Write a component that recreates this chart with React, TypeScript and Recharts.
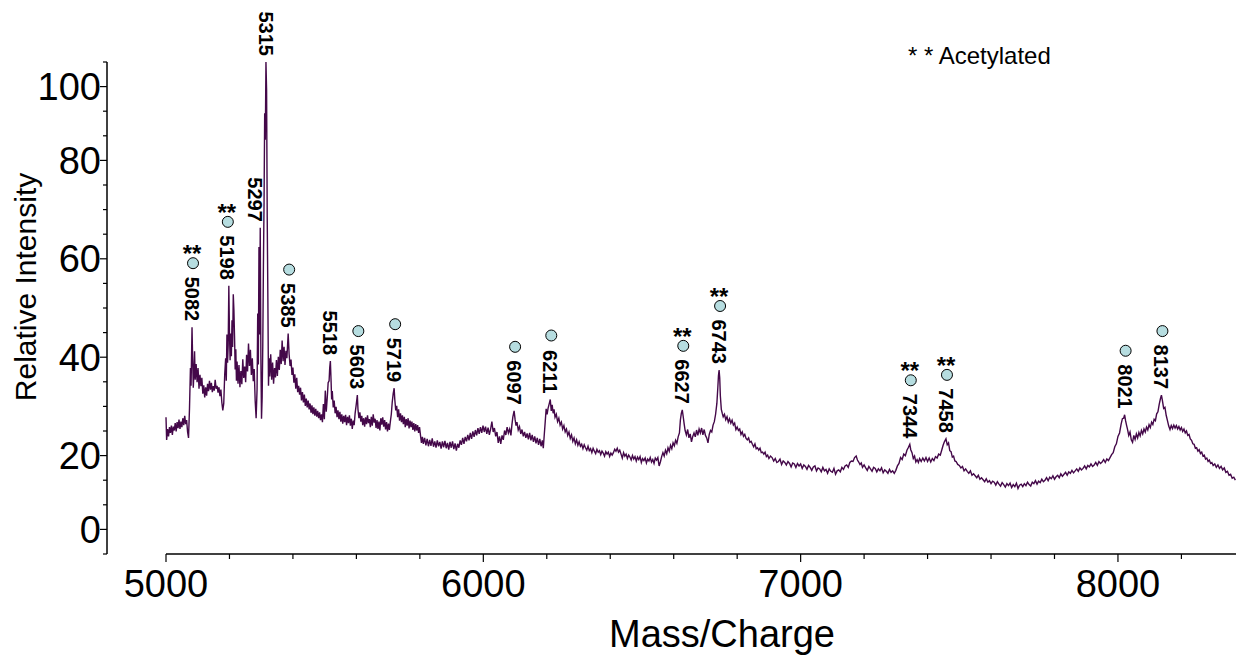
import React from 'react';
import {
  ComposedChart,
  Line,
  Scatter,
  XAxis,
  YAxis,
  ReferenceLine,
} from 'recharts';

// m/z, relative intensity
const spectrum: [number, number][] = [
  [5000, 27.8], [5002, 23.2], [5005, 25.4], [5008, 23.9], [5011, 25.8], [5014, 24.6], [5017, 26.1], [5020, 24.2],
  [5023, 25.9], [5026, 25.1], [5029, 26.6], [5032, 24.9], [5035, 26.8], [5038, 25.6], [5041, 27.3], [5044, 25.4],
  [5047, 26.9], [5050, 25.8], [5053, 27.6], [5056, 26.2], [5059, 28.1], [5062, 26.4], [5065, 27.2], [5068, 24.8],
  [5071, 23.6], [5074, 29.5], [5077, 37.8], [5079, 34.2], [5082, 46.1], [5084, 39.5], [5086, 33.8], [5088, 36.9],
  [5090, 41.2], [5092, 35.4], [5095, 38.6], [5098, 34.9], [5101, 37.8], [5104, 33.6], [5107, 36.4], [5110, 34.1],
  [5113, 35.8], [5116, 32.6], [5119, 34.3], [5122, 31.8], [5125, 33.9], [5128, 32.2], [5131, 34.6], [5134, 33.1],
  [5137, 35.2], [5140, 33.4], [5143, 34.8], [5146, 32.9], [5149, 34.1], [5152, 33.2], [5155, 35.4], [5158, 33.6],
  [5161, 34.2], [5164, 32.8], [5167, 33.9], [5170, 32.1], [5173, 33.4], [5176, 30.8], [5179, 29.2], [5182, 30.6],
  [5185, 36.5], [5188, 39.8], [5190, 35.2], [5192, 44.6], [5194, 38.9], [5196, 42.5], [5198, 54.5], [5200, 45.1],
  [5202, 39.4], [5204, 44.8], [5206, 40.2], [5208, 47.5], [5210, 42.1], [5212, 52.8], [5214, 49.6], [5216, 44.2],
  [5218, 37.5], [5220, 41.6], [5222, 35.2], [5224, 39.1], [5227, 34.6], [5230, 38.4], [5233, 33.9], [5236, 37.2],
  [5239, 34.5], [5242, 39.6], [5245, 35.8], [5248, 38.1], [5251, 34.9], [5254, 40.5], [5257, 37.1], [5260, 42.8],
  [5263, 38.2], [5266, 41.5], [5269, 36.4], [5272, 39.8], [5275, 35.1], [5278, 37.6], [5281, 31.2], [5284, 27.6],
  [5287, 33.5], [5289, 48.9], [5291, 38.5], [5293, 62.4], [5295, 44.6], [5297, 66.3], [5299, 40.2], [5301, 27.5],
  [5303, 31.8], [5305, 42.5], [5307, 58.6], [5309, 71.4], [5311, 89.6], [5313, 84.2], [5315, 100], [5317, 94.3],
  [5319, 68.5], [5321, 52.1], [5323, 34.2], [5325, 39.8], [5327, 36.1], [5330, 40.6], [5333, 35.4], [5336, 38.9],
  [5339, 34.6], [5342, 37.8], [5345, 35.9], [5348, 39.4], [5351, 36.2], [5354, 40.1], [5357, 37.4], [5360, 41.5],
  [5363, 38.6], [5366, 43.4], [5369, 39.2], [5372, 42.1], [5375, 38.4], [5378, 41.3], [5381, 39.8], [5385, 44.8],
  [5388, 40.6], [5391, 38.2], [5394, 39.5], [5397, 36.4], [5400, 37.9], [5403, 34.8], [5406, 36.5], [5409, 33.6],
  [5412, 35.8], [5415, 32.9], [5418, 34.2], [5421, 32.4], [5424, 33.8], [5427, 31.2], [5430, 32.9], [5433, 30.8],
  [5436, 32.4], [5439, 30.1], [5442, 31.6], [5445, 29.8], [5448, 31.2], [5451, 29.4], [5454, 30.6], [5457, 28.7],
  [5460, 30.2], [5463, 28.4], [5466, 29.8], [5469, 28.1], [5472, 29.5], [5475, 27.9], [5478, 29.1], [5481, 27.6],
  [5484, 28.8], [5487, 27.2], [5490, 28.4], [5493, 26.8], [5496, 30.5], [5499, 27.4], [5502, 33.2], [5505, 28.9],
  [5508, 31.6], [5511, 34.8], [5514, 35.2], [5516, 37.9], [5518, 39.2], [5520, 35.6], [5522, 31.4], [5524, 33.1],
  [5527, 29.8], [5530, 31.2], [5533, 28.6], [5536, 29.9], [5539, 27.8], [5542, 29.2], [5545, 27.4], [5548, 28.9],
  [5551, 26.9], [5554, 28.4], [5557, 26.5], [5560, 28.1], [5563, 26.8], [5566, 28.3], [5569, 26.2], [5572, 27.9],
  [5575, 26.6], [5578, 28.2], [5581, 26.1], [5584, 27.5], [5587, 25.4], [5590, 27.1], [5593, 26.2], [5596, 28.6],
  [5599, 30.1], [5601, 31.2], [5603, 32.3], [5605, 29.4], [5608, 27.6], [5611, 28.8], [5614, 26.9], [5617, 28.1],
  [5620, 26.2], [5623, 27.6], [5626, 25.9], [5629, 27.8], [5632, 26.4], [5635, 28.2], [5638, 26.6], [5641, 27.4],
  [5644, 25.8], [5647, 27.9], [5650, 26.1], [5653, 28.4], [5656, 26.7], [5659, 27.5], [5662, 25.6], [5665, 27.2],
  [5668, 25.4], [5671, 26.9], [5674, 25.1], [5677, 27.6], [5680, 26.3], [5683, 27.8], [5686, 25.9], [5689, 27.2],
  [5692, 25.3], [5695, 26.8], [5698, 24.9], [5701, 26.5], [5704, 25.2], [5707, 26.9], [5710, 28.4], [5713, 30.9],
  [5716, 32.6], [5719, 33.7], [5721, 31.4], [5724, 29.2], [5727, 30.1], [5730, 27.8], [5733, 29.4], [5736, 27.1],
  [5739, 28.6], [5742, 26.8], [5745, 28.2], [5748, 26.4], [5751, 27.9], [5754, 25.8], [5757, 27.4], [5760, 26.1],
  [5763, 27.6], [5766, 25.5], [5769, 27.1], [5772, 25.8], [5775, 26.9], [5778, 25.2], [5781, 26.6], [5784, 24.9],
  [5787, 26.4], [5790, 25.1], [5793, 26.2], [5796, 24.6], [5799, 25.8], [5802, 24.1], [5805, 22.6], [5808, 23.8],
  [5811, 22.4], [5815, 23.6], [5819, 22.1], [5823, 23.4], [5827, 21.9], [5831, 23.2], [5835, 22.0], [5839, 23.5],
  [5843, 21.8], [5847, 22.9], [5851, 21.6], [5855, 23.1], [5859, 21.9], [5863, 22.8], [5867, 21.4], [5871, 22.9],
  [5875, 21.7], [5879, 23.0], [5883, 21.5], [5887, 22.6], [5891, 21.2], [5895, 22.8], [5899, 21.6], [5903, 22.9],
  [5907, 21.3], [5911, 22.5], [5915, 21.0], [5919, 22.4], [5923, 21.6], [5927, 23.1], [5931, 22.2], [5935, 23.6],
  [5939, 22.4], [5943, 23.8], [5947, 22.9], [5951, 24.2], [5955, 23.1], [5959, 24.6], [5963, 23.4], [5967, 24.9],
  [5971, 23.8], [5975, 25.2], [5979, 24.1], [5983, 25.6], [5987, 24.4], [5991, 25.8], [5995, 24.6], [5999, 26.1],
  [6003, 24.8], [6007, 25.9], [6011, 24.4], [6015, 25.7], [6019, 24.2], [6023, 25.4], [6027, 26.9], [6031, 24.8],
  [6035, 25.6], [6039, 23.9], [6043, 24.8], [6047, 22.6], [6051, 23.9], [6055, 22.4], [6059, 24.1], [6063, 23.2],
  [6067, 25.1], [6071, 24.2], [6075, 25.8], [6079, 24.6], [6083, 25.4], [6087, 24.1], [6090, 26.2], [6093, 27.8],
  [6097, 29.1], [6100, 27.4], [6103, 26.1], [6106, 26.8], [6110, 25.2], [6114, 25.9], [6118, 24.4], [6122, 25.3],
  [6126, 23.9], [6130, 24.8], [6134, 23.6], [6138, 24.5], [6142, 23.3], [6146, 24.6], [6150, 23.1], [6154, 24.2],
  [6158, 22.8], [6162, 23.9], [6166, 22.5], [6170, 23.6], [6174, 22.2], [6178, 23.4], [6182, 21.9], [6186, 23.1],
  [6189, 21.5], [6192, 24.2], [6195, 26.8], [6198, 29.5], [6201, 28.4], [6204, 29.6], [6208, 30.6], [6211, 31.4],
  [6214, 29.1], [6217, 30.3], [6220, 28.6], [6223, 29.4], [6226, 27.8], [6230, 28.4], [6234, 26.9], [6238, 27.6],
  [6242, 26.2], [6246, 26.8], [6250, 25.4], [6254, 26.1], [6258, 24.8], [6262, 25.4], [6266, 24.1], [6270, 24.8],
  [6274, 23.5], [6278, 24.2], [6282, 22.9], [6286, 23.6], [6290, 22.4], [6294, 23.2], [6298, 22.1], [6302, 22.8],
  [6306, 21.9], [6310, 22.3], [6314, 21.4], [6318, 22.2], [6322, 21.6], [6326, 21.1], [6330, 21.9], [6334, 21.0],
  [6338, 21.4], [6342, 20.6], [6346, 21.5], [6350, 20.9], [6354, 20.4], [6358, 21.3], [6362, 20.7], [6366, 21.0],
  [6370, 20.2], [6374, 20.9], [6378, 20.5], [6382, 19.9], [6386, 20.8], [6390, 20.3], [6394, 20.7], [6398, 19.8],
  [6402, 20.5], [6406, 20.1], [6410, 20.6], [6414, 21.3], [6418, 20.9], [6422, 21.5], [6426, 20.7], [6430, 21.1],
  [6434, 20.3], [6438, 19.5], [6442, 20.6], [6446, 19.9], [6450, 20.3], [6454, 19.4], [6458, 20.1], [6462, 19.7],
  [6466, 19.1], [6470, 20.0], [6474, 19.3], [6478, 19.8], [6482, 18.9], [6486, 19.7], [6490, 19.2], [6494, 19.8],
  [6498, 18.6], [6502, 19.4], [6506, 19.0], [6510, 19.5], [6514, 18.5], [6518, 19.3], [6522, 18.9], [6526, 19.6],
  [6530, 18.7], [6534, 19.2], [6538, 18.4], [6542, 19.5], [6546, 19.1], [6550, 19.6], [6554, 17.9], [6558, 18.7],
  [6562, 19.8], [6566, 20.6], [6570, 19.9], [6574, 21.1], [6578, 20.4], [6582, 21.6], [6586, 20.9], [6590, 22.1],
  [6594, 21.4], [6598, 22.6], [6602, 22.0], [6606, 23.1], [6610, 22.5], [6614, 23.8], [6618, 24.6], [6621, 27.2],
  [6624, 28.6], [6627, 29.3], [6630, 27.9], [6633, 26.4], [6636, 25.1], [6640, 24.2], [6644, 25.3], [6648, 23.6],
  [6652, 24.4], [6656, 22.8], [6660, 23.9], [6664, 24.6], [6668, 23.8], [6672, 25.2], [6676, 24.1], [6680, 25.4],
  [6684, 24.6], [6688, 25.6], [6692, 24.2], [6696, 25.3], [6700, 24.1], [6704, 23.6], [6708, 22.6], [6712, 24.3],
  [6716, 25.1], [6720, 24.8], [6724, 26.2], [6728, 26.9], [6732, 28.4], [6736, 30.6], [6739, 33.8], [6741, 36.2],
  [6743, 37.4], [6745, 35.8], [6747, 32.1], [6750, 29.4], [6753, 28.6], [6756, 27.9], [6760, 28.4], [6764, 27.3],
  [6768, 27.9], [6772, 26.8], [6776, 27.5], [6780, 26.6], [6784, 27.2], [6788, 26.2], [6792, 26.6], [6796, 25.3],
  [6800, 25.8], [6804, 25.1], [6808, 25.4], [6812, 24.3], [6816, 24.8], [6820, 23.9], [6824, 24.3], [6828, 23.5],
  [6832, 23.2], [6836, 23.6], [6840, 22.7], [6844, 22.9], [6848, 22.3], [6852, 21.8], [6856, 22.4], [6860, 21.4],
  [6864, 21.6], [6868, 21.1], [6872, 21.5], [6876, 20.6], [6880, 20.7], [6884, 20.3], [6888, 20.7], [6892, 19.8],
  [6896, 20.1], [6900, 19.4], [6905, 19.9], [6910, 19.6], [6915, 18.9], [6920, 19.4], [6925, 18.6], [6930, 18.8],
  [6935, 19.3], [6940, 18.2], [6945, 18.9], [6950, 18.6], [6955, 18.1], [6960, 18.8], [6965, 18.4], [6970, 17.7],
  [6975, 18.5], [6980, 18.3], [6985, 17.6], [6990, 18.4], [6995, 17.9], [7000, 18.3], [7005, 17.4], [7010, 18.1],
  [7015, 17.8], [7020, 17.2], [7025, 18.0], [7030, 17.6], [7035, 17.0], [7040, 17.7], [7045, 17.9], [7050, 16.9],
  [7055, 17.5], [7060, 17.3], [7065, 16.7], [7070, 17.6], [7075, 16.9], [7080, 17.2], [7085, 16.4], [7090, 17.3],
  [7095, 16.8], [7100, 16.6], [7105, 17.4], [7110, 16.2], [7115, 16.9], [7120, 17.1], [7125, 16.7], [7130, 17.6],
  [7135, 17.2], [7140, 17.9], [7145, 18.1], [7150, 17.6], [7155, 18.6], [7160, 18.9], [7165, 18.8], [7170, 19.6],
  [7175, 19.9], [7179, 19.1], [7183, 18.7], [7187, 18.2], [7191, 18.5], [7195, 17.6], [7200, 18.1], [7205, 17.5],
  [7210, 17.0], [7215, 17.8], [7220, 17.3], [7225, 16.8], [7230, 17.6], [7235, 17.4], [7240, 16.7], [7245, 17.3],
  [7250, 16.9], [7255, 17.5], [7260, 16.5], [7265, 17.1], [7270, 16.8], [7275, 16.4], [7280, 17.2], [7285, 16.6],
  [7290, 16.9], [7295, 16.4], [7300, 17.0], [7305, 17.9], [7310, 18.4], [7315, 19.6], [7320, 19.2], [7325, 20.3],
  [7330, 20.0], [7335, 21.1], [7339, 21.6], [7344, 22.3], [7347, 21.2], [7351, 20.6], [7355, 19.4], [7359, 19.9],
  [7363, 18.7], [7367, 19.2], [7371, 18.6], [7375, 19.4], [7380, 18.8], [7385, 19.5], [7390, 18.9], [7395, 19.6],
  [7400, 18.8], [7405, 19.5], [7410, 18.7], [7415, 19.4], [7420, 19.0], [7425, 19.8], [7430, 19.5], [7435, 20.3],
  [7440, 20.1], [7445, 21.2], [7449, 22.1], [7453, 22.8], [7458, 23.4], [7462, 22.2], [7466, 22.6], [7470, 21.0],
  [7474, 20.8], [7478, 19.7], [7482, 19.9], [7486, 18.9], [7490, 18.8], [7495, 18.2], [7500, 18.0], [7505, 17.5],
  [7510, 17.8], [7515, 16.9], [7520, 17.3], [7525, 16.8], [7530, 16.4], [7535, 16.9], [7540, 16.0], [7545, 16.3],
  [7550, 15.9], [7555, 15.5], [7560, 16.0], [7565, 15.2], [7570, 15.5], [7575, 15.1], [7580, 14.7], [7585, 15.3],
  [7590, 14.6], [7595, 14.9], [7600, 14.3], [7605, 14.8], [7610, 14.6], [7615, 14.0], [7620, 14.7], [7625, 14.2],
  [7630, 13.8], [7635, 14.5], [7640, 14.1], [7645, 13.6], [7650, 14.3], [7655, 13.9], [7660, 14.4], [7665, 13.5],
  [7670, 14.1], [7675, 13.7], [7680, 14.4], [7685, 13.3], [7690, 14.0], [7695, 14.2], [7700, 13.7], [7705, 14.3],
  [7710, 13.9], [7715, 14.6], [7720, 14.1], [7725, 13.8], [7730, 14.6], [7735, 14.3], [7740, 14.9], [7745, 14.2],
  [7750, 14.8], [7755, 14.5], [7760, 15.2], [7765, 14.7], [7770, 15.0], [7775, 15.5], [7780, 14.9], [7785, 15.6],
  [7790, 15.3], [7795, 15.9], [7800, 15.2], [7805, 15.7], [7810, 16.0], [7815, 15.5], [7820, 16.3], [7825, 15.8],
  [7830, 16.2], [7835, 16.6], [7840, 16.0], [7845, 16.7], [7850, 16.4], [7855, 17.0], [7860, 16.5], [7865, 16.9],
  [7870, 17.3], [7875, 16.8], [7880, 17.5], [7885, 17.1], [7890, 17.4], [7895, 17.9], [7900, 17.3], [7905, 18.0],
  [7910, 17.7], [7915, 18.3], [7920, 17.8], [7925, 18.1], [7930, 18.6], [7935, 18.0], [7940, 18.8], [7945, 18.4],
  [7950, 18.7], [7955, 19.2], [7960, 18.6], [7965, 19.3], [7970, 19.0], [7975, 19.6], [7980, 20.2], [7985, 20.6],
  [7990, 21.8], [7995, 22.4], [8000, 23.9], [8005, 24.6], [8010, 26.4], [8014, 27.5], [8018, 27.6], [8021, 28.3],
  [8024, 27.1], [8027, 26.2], [8030, 25.4], [8034, 24.1], [8038, 24.8], [8042, 23.2], [8046, 22.7], [8050, 24.1],
  [8054, 23.3], [8058, 24.4], [8062, 23.6], [8066, 24.7], [8070, 24.0], [8074, 25.1], [8078, 24.4], [8082, 25.4],
  [8086, 24.8], [8090, 25.8], [8094, 25.2], [8098, 26.3], [8102, 25.7], [8106, 26.8], [8110, 26.3], [8114, 27.4],
  [8118, 27.1], [8122, 28.5], [8126, 28.9], [8130, 30.4], [8134, 31.6], [8137, 32.3], [8140, 31.2], [8144, 29.6],
  [8148, 29.8], [8152, 28.2], [8156, 27.1], [8160, 26.0], [8164, 25.3], [8168, 26.1], [8172, 25.5], [8176, 26.2],
  [8180, 25.6], [8184, 26.1], [8188, 25.4], [8192, 25.9], [8196, 25.2], [8200, 25.7], [8204, 24.9], [8208, 25.4],
  [8212, 24.6], [8216, 25.0], [8220, 24.1], [8224, 24.3], [8228, 23.4], [8232, 23.1], [8236, 22.4], [8240, 22.3],
  [8244, 21.5], [8248, 21.6], [8252, 20.9], [8256, 21.2], [8260, 20.4], [8264, 20.7], [8268, 19.9], [8272, 20.1],
  [8276, 19.3], [8280, 19.5], [8284, 18.8], [8288, 19.1], [8292, 18.4], [8296, 18.6], [8300, 18.0], [8305, 18.3],
  [8310, 17.6], [8315, 18.1], [8320, 17.4], [8325, 17.8], [8330, 17.1], [8335, 17.5], [8340, 16.6], [8345, 16.8],
  [8350, 16.0], [8355, 16.2], [8360, 15.4], [8365, 15.6], [8370, 15.0],
];

// annotated peaks
const peakMz = [5082, 5198, 5297, 5315, 5385, 5518, 5603, 5719, 6097, 6211, 6627, 6743, 7344, 7458, 8021, 8137];
const peakIntensity = [46.1, 54.5, 66.3, 100, 44.8, 39.2, 32.3, 33.7, 29.1, 31.4, 29.3, 37.4, 22.3, 23.4, 28.3, 32.3];
const peakMarked = [true, true, false, false, true, false, true, true, true, true, true, true, true, true, true, true];
const peakAcetylated = [true, true, false, false, false, false, false, false, false, false, true, true, true, true, false, false];

const xTicks = [5000, 5200, 5400, 5600, 5800, 6000, 6200, 6400, 6600, 6800, 7000, 7200, 7400, 7600, 7800, 8000, 8200];
const xLabelTicks = [5000, 6000, 7000, 8000];
const yTicks = [0, 5, 10, 15, 20, 25, 30, 35, 40, 45, 50, 55, 60, 65, 70, 75, 80, 85, 90, 95, 100];
const yLabelTicks = [95, 80, 60, 40, 20, 5];
const yLabelText = ['100', '80', '60', '40', '20', '0'];

const FONT = '"Liberation Sans", Arial, Helvetica, sans-serif';
const LINE_COLOR = '#440849';
const AXIS_X = 107;
const AXIS_Y = 554;
// nudges so crowded labels clear the neighbouring peak
const LABEL_DX: Record<number, number> = { 5198: -2, 5297: -5 };

const spectrumData = spectrum.map(([mz, intensity]) => ({ mz, intensity }));
const peakData = peakMz.map((mz, i) => ({
  mz,
  intensity: peakIntensity[i],
  marked: peakMarked[i],
  acetylated: peakAcetylated[i],
}));

const YTick = (props: any) => {
  const { y, payload } = props;
  const idx = yLabelTicks.indexOf(payload.value);
  const major = idx >= 0;
  return (
    <g>
      <line x1={AXIS_X} x2={AXIS_X - (major ? 7 : 4)} y1={y} y2={y} stroke="#000" strokeWidth={1.2} />
      {major && (
        <text x={AXIS_X - 6} y={y + 13.5} textAnchor="end" fontSize={38} fontFamily={FONT} fill="#000">
          {yLabelText[idx]}
        </text>
      )}
    </g>
  );
};

const XTick = (props: any) => {
  const { x, payload } = props;
  const major = xLabelTicks.includes(payload.value);
  return (
    <g>
      <line x1={x} x2={x} y1={AXIS_Y} y2={AXIS_Y + (major ? 8 : 5)} stroke="#000" strokeWidth={1.2} />
      {major && (
        <text x={x} y={AXIS_Y + 43} textAnchor="middle" fontSize={38} fontFamily={FONT} fill="#000">
          {payload.value}
        </text>
      )}
    </g>
  );
};

// rotated m/z label above the peak, with ion circle and acetylation stars
const PeakMark = (props: any) => {
  const { cx, cy, payload } = props;
  const lx = cx + (LABEL_DX[payload.mz] || 0);
  const ty = cy - 6;
  return (
    <g>
      <text
        x={lx}
        y={ty}
        transform={`rotate(90, ${lx}, ${ty})`}
        textAnchor="end"
        dominantBaseline="central"
        fontSize={20}
        fontWeight="bold"
        fontFamily={FONT}
        fill="#000"
      >
        {payload.mz}
      </text>
      {payload.marked && (
        <circle cx={lx + 1} cy={cy - 64} r={5.5} fill="#b6dde0" stroke="#000" strokeWidth={1} />
      )}
      {payload.acetylated && (
        <text x={lx} y={cy - 65} textAnchor="middle" fontSize={24} fontWeight="bold" fontFamily={FONT} fill="#000">
          **
        </text>
      )}
    </g>
  );
};

export default function App() {
  return (
    <div style={{ position: 'absolute', left: 0, top: 0, width: 1236, height: 660, background: '#fff' }}>
      <ComposedChart width={1236} height={660} margin={{ top: 62, right: 0, bottom: 0, left: 0 }}>
        <XAxis
          type="number"
          dataKey="mz"
          domain={[5000, 8372]}
          ticks={xTicks}
          interval={0}
          padding={{ left: 59, right: 0 }}
          axisLine={false}
          tickLine={false}
          tick={<XTick />}
          height={106}
        />
        <YAxis
          type="number"
          dataKey="intensity"
          domain={[0, 100]}
          ticks={yTicks}
          interval={0}
          width={AXIS_X}
          axisLine={{ stroke: '#000', strokeWidth: 1.5 }}
          tickLine={false}
          tick={<YTick />}
        />
        <ReferenceLine
          segment={[{ x: 5000, y: 0 }, { x: 8372, y: 0 }]}
          stroke="#000"
          strokeWidth={1.5}
          ifOverflow="visible"
        />
        <Line
          data={spectrumData}
          dataKey="intensity"
          type="linear"
          dot={false}
          stroke={LINE_COLOR}
          strokeWidth={1.4}
          isAnimationActive={false}
        />
        <Scatter data={peakData} dataKey="intensity" shape={<PeakMark />} isAnimationActive={false} />
        <text x={36} y={287} transform="rotate(-90, 36, 287)" textAnchor="middle" fontSize={30} fontFamily={FONT} fill="#000">
          Relative Intensity
        </text>
        <text x={722} y={647} textAnchor="middle" fontSize={38} fontFamily={FONT} fill="#000">
          Mass/Charge
        </text>
        <text x={908} y={64} fontSize={24} fontFamily={FONT} fill="#000">
          * * Acetylated
        </text>
      </ComposedChart>
    </div>
  );
}
